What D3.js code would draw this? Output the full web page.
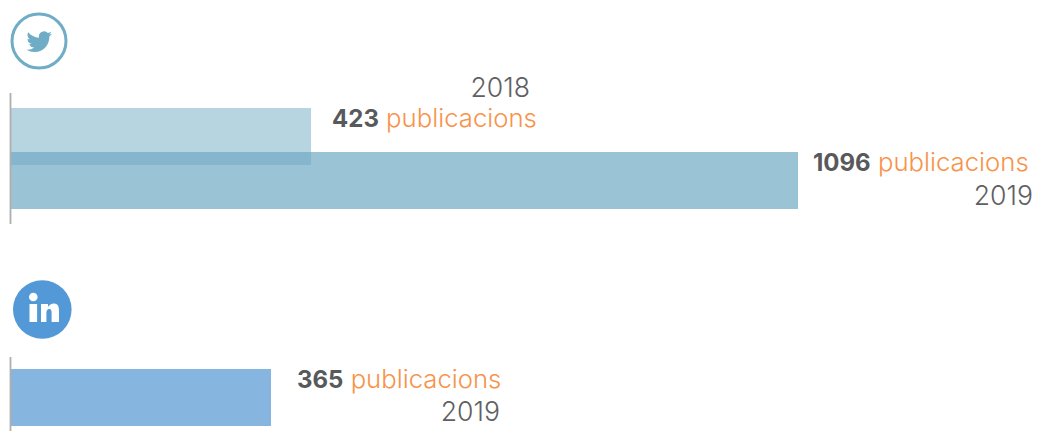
<!DOCTYPE html>
<html><head><meta charset="utf-8">
<script src="https://cdn.jsdelivr.net/npm/d3@7/dist/d3.min.js"></script>
<style>html,body{margin:0;padding:0;background:#fff}svg{display:block}
text{font-family:"Inter","Liberation Sans",sans-serif;font-weight:300}</style></head>
<body><svg id="c" width="1037" height="431"></svg>
<script>
const twitterYears = ["2018","2019"];
const twitterValues = [423,1096];
const linkedinYears = ["2019"];
const linkedinValues = [365];
const unitLabel = "publicacions";

const svg = d3.select("#c");
const numSize = 24, unitSize = 25.7, yearSize = 26.6;
const numCol = "#58595b", unitCol = "#f7934a", yearCol = "#5f6062";
const axisX = 10.5;

const xTw = d3.scaleLinear().domain([0,1096]).range([5,798]);
const xLi = d3.scaleLinear().domain([0,365]).range([11,271]);

const twLayout = [
 {top:108,h:57,fill:"#6fa9c4",op:.5,dx:21,base:127,yearEnd:530,yearBase:97},
 {top:152,h:57,fill:"#6fa9c4",op:.7,dx:15,base:171,yearEnd:1033,yearBase:205}
];
const liLayout = [{top:369,h:57,fill:"#86b6e0",op:1,dx:26,base:388,yearEnd:500,yearBase:421}];

function panel(values, years, x, layout, y1, y2){
  const g = svg.append("g");
  values.forEach((v,i)=>{
    const l = layout[i];
    g.append("rect").attr("x",11).attr("y",l.top).attr("width",x(v)-11).attr("height",l.h)
      .attr("fill",l.fill).attr("fill-opacity",l.op);
    const t = g.append("text").attr("x",x(v)+l.dx).attr("y",l.base);
    t.append("tspan").attr("fill",numCol).attr("font-size",numSize).style("font-weight",700).text(v);
    t.append("tspan").attr("fill",unitCol).attr("font-size",unitSize).text(" "+unitLabel);
    g.append("text").attr("x",l.yearEnd).attr("y",l.yearBase).attr("text-anchor","end")
      .attr("font-size",yearSize).attr("fill",yearCol).text(years[i]);
  });
  g.append("line").attr("x1",axisX).attr("x2",axisX).attr("y1",y1).attr("y2",y2)
    .attr("stroke","#aeaeae").attr("stroke-width",1.8);
}
panel(twitterValues,twitterYears,xTw,twLayout,93,224);
panel(linkedinValues,linkedinYears,xLi,liLayout,357,431);

// twitter icon
svg.append("circle").attr("cx",39).attr("cy",41).attr("r",27)
  .attr("fill","none").attr("stroke","#6facc6").attr("stroke-width",3);
svg.append("path").attr("transform","translate(26.5,29) scale(1.06)").attr("fill","#6facc6")
  .attr("d","M23.953 4.57a10 10 0 01-2.825.775 4.958 4.958 0 002.163-2.723c-.951.555-2.005.959-3.127 1.184a4.92 4.92 0 00-8.384 4.482C7.69 8.095 4.067 6.13 1.64 3.162a4.822 4.822 0 00-.666 2.475c0 1.71.87 3.213 2.188 4.096a4.904 4.904 0 01-2.228-.616v.06a4.923 4.923 0 003.946 4.827 4.996 4.996 0 01-2.212.085 4.936 4.936 0 004.604 3.417 9.867 9.867 0 01-6.102 2.105c-.39 0-.779-.023-1.17-.067a13.995 13.995 0 007.557 2.209c9.053 0 13.998-7.496 13.998-13.985 0-.21 0-.42-.015-.63A9.935 9.935 0 0024 4.59z");

// linkedin icon
svg.append("circle").attr("cx",42.3).attr("cy",309.5).attr("r",29.3).attr("fill","#5499d7");
svg.append("circle").attr("cx",33.3).attr("cy",297).attr("r",4.3).attr("fill","#fff");
svg.append("rect").attr("x",29.5).attr("y",304).attr("width",7.6).attr("height",18).attr("fill","#fff");
svg.append("path").attr("fill","#fff")
  .attr("d","M41 304h7v3c1.3-2.3 3.5-3.6 6-3.6 4.5 0 5 3.6 5 8.1V322h-7.4v-9c0-2.2-.2-4-2.3-4-2.2 0-2.9 1.8-2.9 4v9H41z");
</script></body></html>
